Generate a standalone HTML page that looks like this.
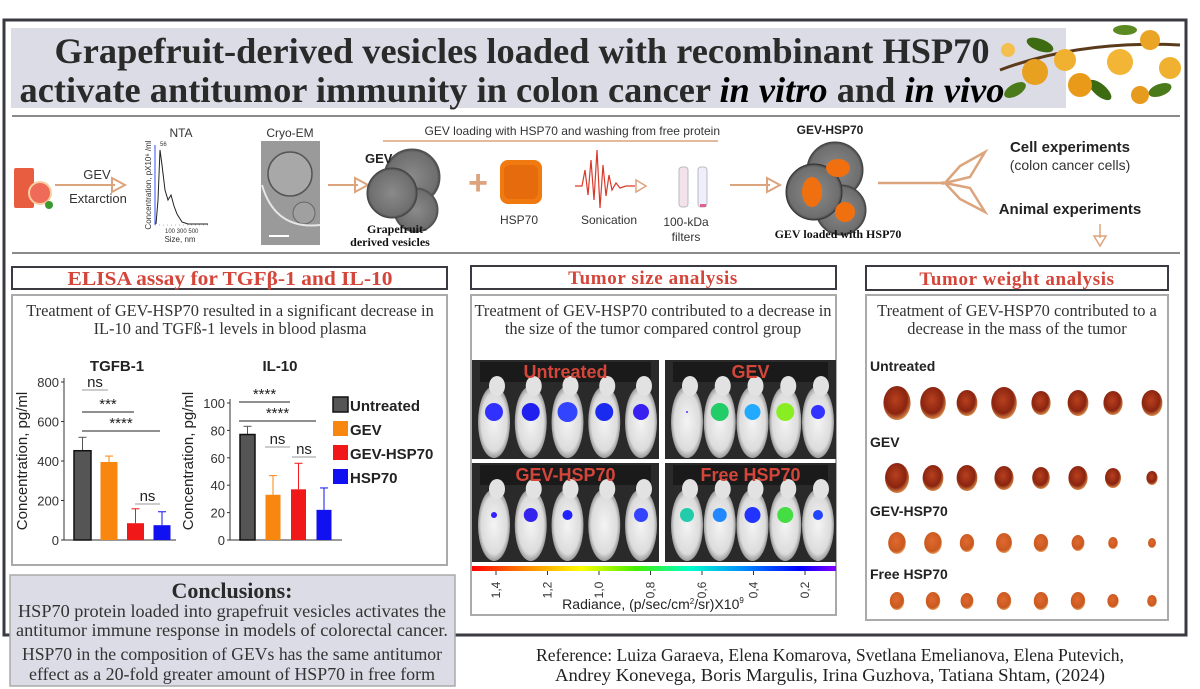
<!DOCTYPE html>
<html><head><meta charset="utf-8">
<style>
html,body{margin:0;padding:0;background:#fff;}
svg{display:block;}
.sans{font-family:"Liberation Sans",Arial,sans-serif;}
.serif{font-family:"Liberation Serif","Times New Roman",serif;}
</style></head>
<body>
<svg id="root" width="1200" height="689" viewBox="0 0 1200 689" xmlns="http://www.w3.org/2000/svg">
<defs>
<linearGradient id="rad" x1="0" x2="1" y1="0" y2="0">
<stop offset="0" stop-color="#ff0000"/><stop offset="0.15" stop-color="#ff8800"/><stop offset="0.3" stop-color="#ffff00"/><stop offset="0.45" stop-color="#44ee00"/><stop offset="0.6" stop-color="#00ffcc"/><stop offset="0.75" stop-color="#0088ff"/><stop offset="0.9" stop-color="#0000ff"/><stop offset="1" stop-color="#8800ff"/>
</linearGradient>
<radialGradient id="ves" cx="0.5" cy="0.5" r="0.5"><stop offset="0" stop-color="#8a8a8a"/><stop offset="0.9" stop-color="#6e6e6e"/><stop offset="1" stop-color="#444"/></radialGradient>
<radialGradient id="tum" cx="0.45" cy="0.4" r="0.6"><stop offset="0" stop-color="#b8401e"/><stop offset="0.7" stop-color="#8a2410"/><stop offset="1" stop-color="#d88a4a"/></radialGradient>
<radialGradient id="tum2" cx="0.45" cy="0.4" r="0.6"><stop offset="0" stop-color="#e06a30"/><stop offset="0.8" stop-color="#c9581f"/><stop offset="1" stop-color="#e8a060"/></radialGradient>
<radialGradient id="mouse" cx="0.5" cy="0.5" r="0.5"><stop offset="0" stop-color="#f4f4f4"/><stop offset="0.8" stop-color="#dcdcdc"/><stop offset="1" stop-color="#9a9a9a"/></radialGradient>
</defs>

<rect x="4" y="20" width="1182" height="615" fill="#fff" stroke="#3a3a42" stroke-width="3"/>

<rect x="11" y="28" width="1055" height="80" fill="#dcdce6"/>
<text class="serif" x="522" y="63" text-anchor="middle" font-size="36" font-weight="bold" fill="#2a2a2a" textLength="935" lengthAdjust="spacingAndGlyphs">Grapefruit-derived vesicles loaded with recombinant HSP70</text>
<text class="serif" x="512" y="102" text-anchor="middle" font-size="36" font-weight="bold" fill="#2a2a2a" textLength="985" lengthAdjust="spacingAndGlyphs">activate antitumor immunity in colon cancer <tspan font-style="italic" fill="#000">in vitro</tspan> and <tspan font-style="italic" fill="#000">in vivo</tspan></text>

<g>
<path d="M1000 70 Q1080 40 1180 45" stroke="#5a3a1a" stroke-width="3" fill="none"/>
<ellipse cx="1015" cy="90" rx="12" ry="6" fill="#4a7a1a" transform="rotate(-30 1015 90)"/>
<ellipse cx="1040" cy="45" rx="14" ry="6" fill="#3d6b12" transform="rotate(20 1040 45)"/>
<ellipse cx="1100" cy="90" rx="14" ry="6" fill="#3d6b12" transform="rotate(40 1100 90)"/>
<ellipse cx="1160" cy="90" rx="12" ry="6" fill="#4a7a1a" transform="rotate(-20 1160 90)"/>
<ellipse cx="1125" cy="30" rx="12" ry="5" fill="#5b8a22"/>
<circle cx="1035" cy="72" r="13" fill="#e8a020"/>
<circle cx="1065" cy="60" r="11" fill="#f0b030"/>
<circle cx="1080" cy="85" r="12" fill="#e89a18"/>
<circle cx="1120" cy="62" r="13" fill="#f2b535"/>
<circle cx="1150" cy="40" r="10" fill="#eaa526"/>
<circle cx="1170" cy="68" r="11" fill="#f0b030"/>
<circle cx="1140" cy="95" r="9" fill="#e69a1e"/>
<circle cx="1008" cy="50" r="7" fill="#f3c050"/>
</g>

<line x1="12" y1="116" x2="1180" y2="116" stroke="#8a8a8a" stroke-width="2"/>
<line x1="12" y1="253" x2="1180" y2="253" stroke="#8a8a8a" stroke-width="2"/>

<g>
<g>
<rect x="14" y="168" width="20" height="40" fill="#e85c40" rx="2"/>
<circle cx="40" cy="193" r="11" fill="#f06a5a" stroke="#f7d0a0" stroke-width="2"/>
<circle cx="49" cy="205" r="4" fill="#3a9a30"/>
</g>
<g>
<line x1="55" y1="185" x2="115" y2="185" stroke="#dca47c" stroke-width="2"/>
<path d="M112 178 L125 185 L112 192 Z" fill="none" stroke="#dca47c" stroke-width="2"/>
</g>
<text class="sans" x="97" y="179" text-anchor="middle" font-size="13" fill="#333">GEV</text>
<text class="sans" x="98" y="203" text-anchor="middle" font-size="13" fill="#333">Extarction</text>

<text class="sans" x="181" y="137" text-anchor="middle" font-size="12" fill="#333">NTA</text>
<g>
<line x1="155" y1="145" x2="155" y2="225" stroke="#3050ff" stroke-width="1"/>
<line x1="155" y1="225" x2="210" y2="225" stroke="#d04040" stroke-width="0.6" stroke-dasharray="1 3"/>
<polyline points="156,224 158,200 160,150 162,165 165,190 168,200 171,195 174,206 177,214 182,222 188,224 208,224" fill="none" stroke="#222" stroke-width="1"/>
<text class="sans" x="160" y="146" font-size="6" fill="#333">56</text>
<text class="sans" x="165" y="233" font-size="6" fill="#333">100  300  500</text>
<text class="sans" x="180" y="242" text-anchor="middle" font-size="8" fill="#333">Size, nm</text>
<text class="sans" transform="translate(151 185) rotate(-90)" text-anchor="middle" font-size="8" fill="#333">Concentration, pX10⁶ /ml</text>
</g>
<text class="sans" x="290" y="137" text-anchor="middle" font-size="12" fill="#333">Cryo-EM</text>
<g>
<rect x="261" y="141" width="59" height="104" fill="#9a9a9a"/>
<circle cx="290" cy="174" r="22" fill="#a8a8a8" stroke="#555" stroke-width="1.5"/>
<circle cx="304" cy="213" r="11" fill="#a0a0a0" stroke="#666" stroke-width="1"/>
<path d="M262 185 Q275 230 320 225" stroke="#e6e6e6" stroke-width="2" fill="none"/>
<rect x="269" y="235" width="20" height="2" fill="#fff"/>
</g>
<g>
<line x1="328" y1="185" x2="358" y2="185" stroke="#dca47c" stroke-width="2"/>
<path d="M355 178 L368 185 L355 192 Z" fill="none" stroke="#dca47c" stroke-width="2"/>
</g>
<g>
<circle cx="412" cy="177" r="28" fill="url(#ves)" stroke="#555"/>
<circle cx="416" cy="210" r="22" fill="url(#ves)" stroke="#555"/>
<circle cx="392" cy="193" r="25" fill="url(#ves)" stroke="#444"/>
</g>
<text class="sans" x="365" y="163" font-size="13" font-weight="bold" fill="#222">GEV</text>
<text class="serif" x="397" y="233" text-anchor="middle" font-size="12" font-weight="bold" fill="#111">Grapefruit-</text>
<text class="serif" x="390" y="246" text-anchor="middle" font-size="12" font-weight="bold" fill="#111">derived vesicles</text>
<text class="sans" x="478" y="194" text-anchor="middle" font-size="34" font-weight="bold" fill="#dca47c">+</text>
<g>
<rect x="500" y="160" width="42" height="44" rx="8" fill="#f07a10"/>
<rect x="504" y="165" width="34" height="34" rx="6" fill="#e0600a" opacity="0.6"/>
</g>
<text class="sans" x="519" y="224" text-anchor="middle" font-size="12" fill="#333">HSP70</text>
<text class="sans" x="720" y="135" text-anchor="end" font-size="12" fill="#333">GEV loading with HSP70 and washing from free protein</text>
<line x1="383" y1="141" x2="718" y2="141" stroke="#dca47c" stroke-width="1.5"/>
<g>
<polyline points="575,186 582,186 585,170 588,195 591,160 594,200 597,150 600,208 603,165 606,196 609,175 612,190 616,183 620,188 626,186 635,186" fill="none" stroke="#d83a2a" stroke-width="1.2"/>
<path d="M636 180 L646 186 L636 192 Z" fill="none" stroke="#dca47c" stroke-width="1.5"/>
</g>
<text class="sans" x="609" y="224" text-anchor="middle" font-size="12" fill="#333">Sonication</text>
<g>
<rect x="679" y="167" width="9" height="40" rx="3" fill="#f2e2ea" stroke="#bbb"/>
<rect x="698" y="167" width="9" height="40" rx="3" fill="#eef" stroke="#bbb"/>
<rect x="700" y="204" width="6" height="3" fill="#e06090"/>
</g>
<text class="sans" x="686" y="226" text-anchor="middle" font-size="12" fill="#333">100-kDa</text>
<text class="sans" x="686" y="241" text-anchor="middle" font-size="12" fill="#333">filters</text>
<g>
<line x1="730" y1="185" x2="770" y2="185" stroke="#dca47c" stroke-width="2"/>
<path d="M767 178 L780 185 L767 192 Z" fill="none" stroke="#dca47c" stroke-width="2"/>
</g>
<text class="sans" x="830" y="134" text-anchor="middle" font-size="12" font-weight="bold" fill="#222">GEV-HSP70</text>
<g>
<circle cx="835" cy="170" r="28" fill="url(#ves)" stroke="#444"/>
<circle cx="841" cy="210" r="25" fill="url(#ves)" stroke="#444"/>
<circle cx="814" cy="192" r="28" fill="url(#ves)" stroke="#333"/>
<ellipse cx="812" cy="192" rx="10" ry="15" fill="#f07010"/>
<ellipse cx="838" cy="168" rx="12" ry="9" fill="#f07010"/>
<ellipse cx="845" cy="212" rx="10" ry="10" fill="#f07010"/>
</g>
<text class="serif" x="838" y="238" text-anchor="middle" font-size="12" font-weight="bold" fill="#111">GEV loaded with HSP70</text>
<g>
<line x1="878" y1="183" x2="945" y2="183" stroke="#dca47c" stroke-width="2.5"/>
<path d="M945 183 L960 166 L985 152 L970 177 Z" fill="none" stroke="#dca47c" stroke-width="2.5"/>
<path d="M945 183 L960 199 L985 212 L970 188 Z" fill="none" stroke="#dca47c" stroke-width="2.5"/>
</g>
<text class="sans" x="1070" y="152" text-anchor="middle" font-size="15" font-weight="bold" fill="#222">Cell experiments</text>
<text class="sans" x="1070" y="170" text-anchor="middle" font-size="14" fill="#333">(colon cancer cells)</text>
<text class="sans" x="1070" y="214" text-anchor="middle" font-size="15" font-weight="bold" fill="#222">Animal experiments</text>
<g>
<line x1="1100" y1="224" x2="1100" y2="238" stroke="#dca47c" stroke-width="1.5"/>
<path d="M1094 236 L1100 246 L1106 236 Z" fill="none" stroke="#dca47c" stroke-width="1.5"/>
</g>
</g>

<rect x="12" y="267" width="435" height="22" fill="#fff" stroke="#3a3a42" stroke-width="2"/>
<text class="serif" x="230" y="285" text-anchor="middle" font-size="20" font-weight="bold" fill="#d4453a" textLength="325" lengthAdjust="spacingAndGlyphs">ELISA assay for TGFβ-1 and IL-10</text>
<rect x="12" y="295" width="435" height="270" fill="#fff" stroke="#aaa" stroke-width="2"/>
<text class="serif" x="230" y="316" text-anchor="middle" font-size="16.4" fill="#333">Treatment of GEV-HSP70 resulted in a significant decrease in</text>
<text class="serif" x="230" y="334" text-anchor="middle" font-size="16.4" fill="#333">IL-10 and TGFß-1 levels in blood plasma</text>
<g id="charts"></g>

<rect x="471" y="266" width="365" height="23" fill="#fff" stroke="#3a3a42" stroke-width="2"/>
<text class="serif" x="653" y="284" text-anchor="middle" font-size="19" font-weight="bold" fill="#d4453a" letter-spacing="0.6">Tumor size analysis</text>
<rect x="471" y="295" width="365" height="320" fill="#fff" stroke="#aaa" stroke-width="2"/>
<text class="serif" x="653" y="316" text-anchor="middle" font-size="16.4" fill="#333">Treatment of GEV-HSP70 contributed to a decrease in</text>
<text class="serif" x="653" y="334" text-anchor="middle" font-size="16.4" fill="#333">the size of the tumor compared control group</text>
<g id="mice"></g>
<rect x="472" y="566" width="364" height="5" fill="url(#rad)"/>
<g id="cbticks"></g>
<text class="sans" x="653" y="609" text-anchor="middle" font-size="14" fill="#222">Radiance, (p/sec/cm<tspan dy="-5" font-size="8">2</tspan><tspan dy="5">/sr)X10</tspan><tspan dy="-6" font-size="8">9</tspan></text>

<rect x="866" y="266" width="302" height="24" fill="#fff" stroke="#3a3a42" stroke-width="2"/>
<text class="serif" x="1017" y="285" text-anchor="middle" font-size="19" font-weight="bold" fill="#d4453a" letter-spacing="0.6">Tumor weight analysis</text>
<rect x="866" y="295" width="302" height="325" fill="#fff" stroke="#aaa" stroke-width="2"/>
<text class="serif" x="1017" y="316" text-anchor="middle" font-size="16.4" fill="#333">Treatment of GEV-HSP70 contributed to a</text>
<text class="serif" x="1017" y="334" text-anchor="middle" font-size="16.4" fill="#333">decrease in the mass of the tumor</text>
<g id="tumors"></g>

<rect x="10" y="575" width="445" height="111" fill="#dcdce6" stroke="#aaa" stroke-width="1.5"/>
<text class="serif" x="232" y="598" text-anchor="middle" font-size="22" font-weight="bold" fill="#2a2a2a">Conclusions:</text>
<text class="serif" x="232" y="617" text-anchor="middle" font-size="17.5" fill="#333" textLength="428" lengthAdjust="spacingAndGlyphs">HSP70 protein loaded into grapefruit vesicles activates the</text>
<text class="serif" x="232" y="636" text-anchor="middle" font-size="17.5" fill="#333" textLength="432" lengthAdjust="spacingAndGlyphs">antitumor immune response in models of colorectal cancer.</text>
<text class="serif" x="232" y="660" text-anchor="middle" font-size="17.5" fill="#333" textLength="420" lengthAdjust="spacingAndGlyphs">HSP70 in the composition of GEVs has the same antitumor</text>
<text class="serif" x="232" y="680" text-anchor="middle" font-size="17.5" fill="#333" textLength="406" lengthAdjust="spacingAndGlyphs">effect as a 20-fold greater amount of HSP70 in free form</text>

<text class="serif" x="830" y="661" text-anchor="middle" font-size="17.5" fill="#222" textLength="588" lengthAdjust="spacingAndGlyphs">Reference: Luiza Garaeva, Elena Komarova, Svetlana Emelianova, Elena Putevich,</text>
<text class="serif" x="830" y="681" text-anchor="middle" font-size="17.5" fill="#222" textLength="550" lengthAdjust="spacingAndGlyphs">Andrey Konevega, Boris Margulis, Irina Guzhova, Tatiana Shtam, (2024)</text>
</svg>

<script>
// ---- chart data ----
const groups = ["Untreated", "GEV", "GEV-HSP70", "HSP70"];
const groupColors = ["#555555", "#f7870f", "#f01818", "#1010f0"];
const tgfbValues = [452, 395, 85, 75];
const tgfbErrors = [68, 30, 73, 68];
const tgfbTicks = [0, 200, 400, 600, 800];
const il10Values = [77, 33, 37, 22];
const il10Errors = [6, 14, 19, 16];
const il10Ticks = [0, 20, 40, 60, 80, 100];
const radianceTicks = ["1,4", "1,2", "1,0", "0,8", "0,6", "0,4", "0,2"];
const tumorGroups = ["Untreated", "GEV", "GEV-HSP70", "Free HSP70"];
const tumorSizes = [
  [17, 16, 13, 16, 12, 13, 12, 13],
  [15, 13, 13, 12, 11, 12, 10, 7],
  [11, 11, 9, 10, 9, 8, 6, 5],
  [9, 9, 8, 9, 9, 9, 7, 6]
];

const NS = "http://www.w3.org/2000/svg";
function mk(parent, tag, attrs, text) {
  const e = document.createElementNS(NS, tag);
  for (const k in attrs) e.setAttribute(k, attrs[k]);
  if (text !== undefined) e.textContent = text;
  parent.appendChild(e);
  return e;
}
const charts = document.getElementById("charts");

function drawChart(cfg) {
  const g = mk(charts, "g", {});
  
  
  const yScale = v => cfg.y0 - (v / cfg.max) * (cfg.y0 - cfg.yTop);
  const title = mk(g, "text", {x: cfg.titleX, y: 371, "text-anchor": "middle", "font-size": 15, "font-weight": "bold", fill: "#222", class: "sans"}, cfg.title);
  
  
  const axis = mk(g, "line", {x1: cfg.axisX, y1: cfg.yTop - 4, x2: cfg.axisX, y2: cfg.y0, stroke: "#333", "stroke-width": 1});
  
  
  const base = mk(g, "line", {x1: cfg.axisX, y1: cfg.y0, x2: cfg.axisX + 112, y2: cfg.y0, stroke: "#333", "stroke-width": 1});
  
  
  cfg.ticks.forEach(t => {
    const y = yScale(t);
    const tl = mk(g, "text", {x: cfg.axisX - 5, y: y + 5, "text-anchor": "end", "font-size": 13, fill: "#333", class: "sans"}, String(t));
    
    
    mk(g, "line", {x1: cfg.axisX - 3, y1: y, x2: cfg.axisX, y2: y, stroke: "#333"});
  });
  const yl = mk(g, "text", {transform: `translate(${cfg.axisX - 37} 461) rotate(-90)`, "text-anchor": "middle", "font-size": 15, fill: "#222", class: "sans"}, "Concentration, pg/ml");
  
  
  cfg.values.forEach((v, i) => {
    const x = cfg.axisX + 10 + i * cfg.step;
    const yv = yScale(v), ye = yScale(v + cfg.errors[i]);
    const err = mk(g, "line", {x1: x + cfg.bw / 2, y1: yv, x2: x + cfg.bw / 2, y2: ye, stroke: groupColors[i], "stroke-width": 1});
    
    
    mk(g, "line", {x1: x + cfg.bw / 2 - 4, y1: ye, x2: x + cfg.bw / 2 + 4, y2: ye, stroke: groupColors[i]});
    const bar = mk(g, "rect", {x: x, y: yv, width: cfg.bw, height: cfg.y0 - yv, fill: groupColors[i], stroke: i === 0 ? "#111" : "none", "stroke-width": i === 0 ? 1.5 : 0});
    
    
  });
  cfg.sig.forEach(s => {
    const l = mk(g, "line", {x1: s[0], y1: s[2], x2: s[1], y2: s[2], stroke: s[4] ? "#222" : "#999", "stroke-width": 1});
    
    
    const t = mk(g, "text", {x: (s[0] + s[1]) / 2, y: s[2] - 3, "text-anchor": "middle", "font-size": 15, fill: "#222", class: "sans"}, s[3]);
    
    
  });
}
drawChart({name: "tgfb-chart", title: "TGFB-1", titleX: 117, axisX: 64, y0: 540, yTop: 382, max: 800, step: 26.5, bw: 17,
  values: tgfbValues, errors: tgfbErrors, ticks: tgfbTicks,
  sig: [[82, 108, 390, "ns", false], [82, 134, 412, "***", true], [82, 160, 431, "****", true], [135, 160, 504, "ns", false]]});
drawChart({name: "il10-chart", title: "IL-10", titleX: 280, axisX: 230, y0: 540, yTop: 403, max: 100, step: 25.5, bw: 15,
  values: il10Values, errors: il10Errors, ticks: il10Ticks,
  sig: [[239, 290, 402, "****", true], [239, 316, 421, "****", true], [265, 290, 447, "ns", false], [292, 316, 457, "ns", false]]});

groups.forEach((gname, i) => {
  const y = 397 + i * 24;
  const sw = mk(charts, "rect", {x: 333, y: y, width: 15, height: 15, fill: groupColors[i], stroke: "#111", "stroke-width": i === 0 ? 1.5 : 0});
  
  
  const t = mk(charts, "text", {x: 350, y: y + 14, "font-size": 15, "font-weight": "bold", fill: "#222", class: "sans"}, gname);
  
  
});

const mice = document.getElementById("mice");
const panels = [
  {label: "Untreated", x: 472, y: 360, w: 187, h: 99, blobs: [["#3030ff", 9], ["#2020ee", 9], ["#3344ff", 10], ["#1a2aee", 9], ["#3a20f0", 8]]},
  {label: "GEV", x: 665, y: 360, w: 171, h: 99, blobs: [["#5a30ff", 1], ["#22cc66", 9], ["#22aaff", 8], ["#88ee22", 9], ["#3333ff", 7]]},
  {label: "GEV-HSP70", x: 472, y: 463, w: 187, h: 99, blobs: [["#3322ff", 3], ["#3322ee", 7], ["#2222ff", 5], ["#aaa", 0], ["#3344ff", 7]]},
  {label: "Free HSP70", x: 665, y: 463, w: 171, h: 99, blobs: [["#22ccaa", 7], ["#2288ff", 7], ["#2233ff", 8], ["#44dd44", 8], ["#2244ff", 5]]}
];
panels.forEach(p => {
  const g = mk(mice, "g", {});
  
  
  mk(g, "rect", {x: p.x, y: p.y, width: p.w, height: p.h, fill: "#2a2a2a"});
  mk(g, "rect", {x: p.x + 8, y: p.y + 2, width: p.w - 16, height: 20, fill: "#1a1a1a"});
  p.blobs.forEach((b, i) => {
    const cx = p.x + 22 + i * (p.w - 40) / 4;
    const m = mk(g, "ellipse", {cx: cx, cy: p.y + 62, rx: 16, ry: 36, fill: "url(#mouse)"});
    
    
    mk(g, "ellipse", {cx: cx + 3, cy: p.y + 26, rx: 8, ry: 10, fill: "#e2e2e2"});
    if (b[1] > 0) mk(g, "circle", {cx: cx, cy: p.y + 52, r: b[1], fill: b[0]});
  });
  const t = mk(g, "text", {x: p.x + p.w / 2, y: p.y + 18, "text-anchor": "middle", "font-size": 18, "font-weight": "bold", fill: "#d4453a", class: "sans"}, p.label);
  
  
});
const cbt = document.getElementById("cbticks");
radianceTicks.forEach((lab, i) => {
  const x = 496 + i * 51.5;
  const t = mk(cbt, "text", {transform: `translate(${x + 4} 590) rotate(-90)`, "text-anchor": "middle", "font-size": 12, fill: "#333", class: "sans"}, lab);
  
  
  mk(cbt, "line", {x1: x, y1: 571, x2: x, y2: 575, stroke: "#333"});
});

const tumors = document.getElementById("tumors");
const labelY = [371, 447, 516, 579];
const rowY = [403, 478, 543, 601];
const colX = [897, 933, 967, 1004, 1041, 1078, 1113, 1152];
tumorGroups.forEach((gn, r) => {
  const t = mk(tumors, "text", {x: 870, y: labelY[r], "font-size": 14, "font-weight": "bold", fill: "#222", class: "sans"}, gn);
  
  
  tumorSizes[r].forEach((s, c) => {
    const e = mk(tumors, "ellipse", {cx: colX[c], cy: rowY[r], rx: s * 0.8, ry: s, fill: r < 2 ? "url(#tum)" : "url(#tum2)"});
    
    
  });
});
</script>
</body></html>
